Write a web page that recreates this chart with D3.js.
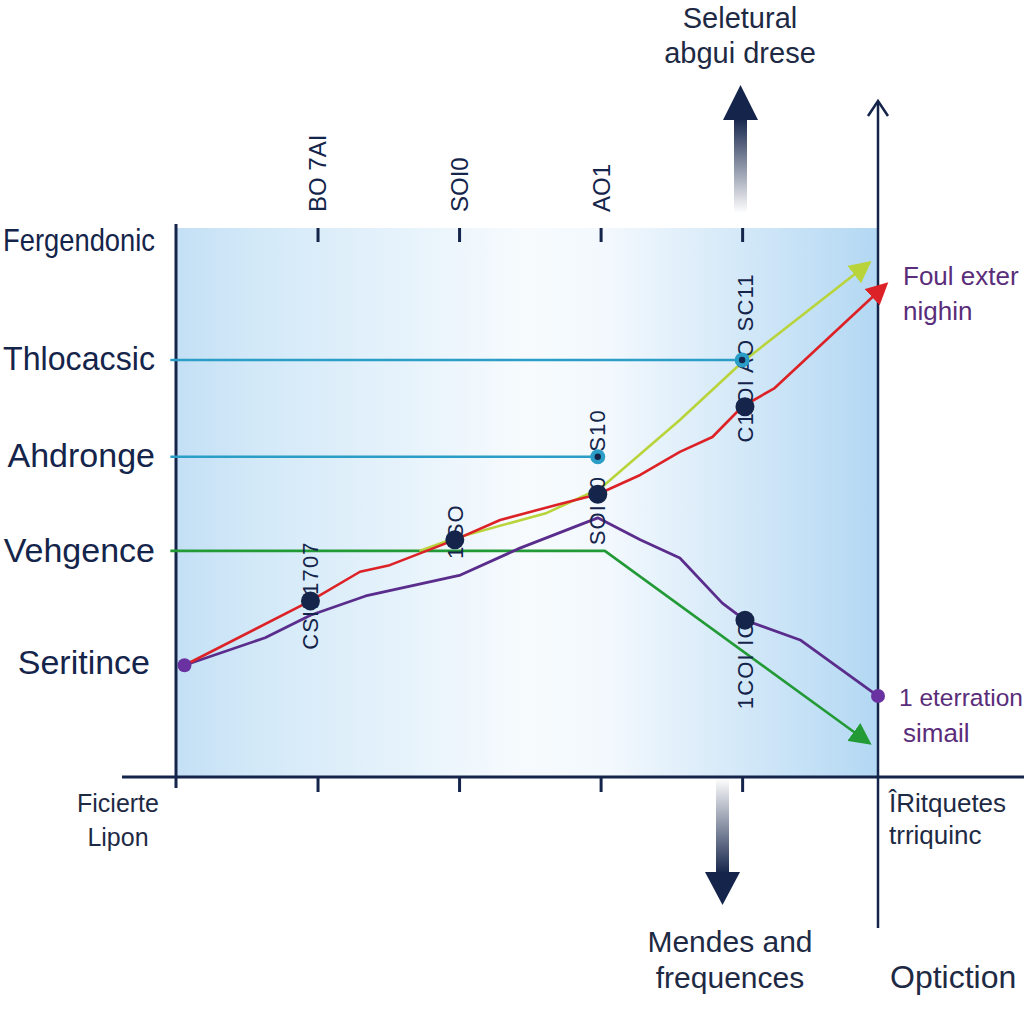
<!DOCTYPE html>
<html><head><meta charset="utf-8">
<script src="https://cdn.jsdelivr.net/npm/d3@7/dist/d3.min.js"></script>
<style>html,body{margin:0;padding:0;background:#fff;}svg{display:block;font-family:"Liberation Sans",Arial,sans-serif;}</style>
</head><body>
<script>
// ---- data ----
const categories = ["Seritince","Vehgence","Ahdronge","Thlocacsic","Fergendonic"];
const categoryValues = [20.9, 41.3, 58.6, 76.2, 97.8];
const topTickValues = [1, 2, 3, 4];
const topTickLabels = ["BO 7AI", "SOI0", "AO1", ""];

const redX = [0.06, 0.95, 1.30, 1.51, 1.97, 2.29, 2.68, 2.98, 3.28, 3.56, 3.79, 4.00, 4.23, 5.01];
const redY = [20.5, 32.2, 37.5, 38.7, 43.3, 46.9, 49.6, 51.6, 55.1, 59.3, 62.0, 67.5, 70.9, 89.6];
const yellowX = [1.72, 1.97, 2.62, 3.00, 3.56, 4.00, 4.89];
const yellowY = [41.3, 43.6, 48.2, 52.7, 65.1, 75.6, 93.5];
const purpleX = [0.06, 0.63, 0.95, 1.34, 2.01, 2.43, 2.98, 3.28, 3.56, 3.86, 4.02, 4.41, 4.96];
const purpleY = [20.5, 25.5, 29.6, 33.1, 36.9, 41.8, 47.3, 43.3, 40.0, 31.8, 28.7, 25.1, 14.9];
const greenX = [-0.04, 3.03, 4.89];
const greenY = [41.3, 41.3, 6.5];
const tealX1 = [-0.04, -0.04];
const tealX2 = [4.0, 2.98];
const tealY = [76.0, 58.4];

const navyPointX = [0.95, 1.97, 2.98, 4.02, 4.02];
const navyPointY = [32.2, 43.3, 51.6, 67.5, 28.7];
const purplePointX = [0.06, 4.96];
const purplePointY = [20.5, 14.9];

const pointLabels = ["CSII 1707", "1 SO", "SOI I0", "C1 OI AO SC11", "1COI ICI"];
const pointLabelX = [0.95, 1.97, 2.98, 4.02, 4.02];
const pointLabelY = [23.3, 39.8, 42.3, 61.0, 12.5];
const extraLabels = ["S10"];
const extraLabelX = [2.98];
const extraLabelY = [59.3];

// ---- layout ----
const W = 1024, H = 1024;
const x = d3.scaleLinear().domain([0, 4.96]).range([176, 878]);
const y = d3.scaleLinear().domain([0, 100]).range([778, 228]);
const navy = "#14244a";
const textCol = "#1e2a44";

const svg = d3.select("body").append("svg").attr("width", W).attr("height", H);
const defs = svg.append("defs");

const bg = defs.append("linearGradient").attr("id","bg").attr("x1","0").attr("x2","1").attr("y1","0").attr("y2","0");
bg.append("stop").attr("offset","0").attr("stop-color","#c4e0f5");
bg.append("stop").attr("offset","0.12").attr("stop-color","#d3e9f8");
bg.append("stop").attr("offset","0.5").attr("stop-color","#f7fbfe");
bg.append("stop").attr("offset","0.62").attr("stop-color","#f2f8fd");
bg.append("stop").attr("offset","1").attr("stop-color","#b3d8f3");

const upG = defs.append("linearGradient").attr("id","upG").attr("x1","0").attr("x2","0").attr("y1","0").attr("y2","1");
upG.append("stop").attr("offset","0").attr("stop-color",navy);
upG.append("stop").attr("offset","1").attr("stop-color",navy).attr("stop-opacity","0");
const dnG = defs.append("linearGradient").attr("id","dnG").attr("x1","0").attr("x2","0").attr("y1","0").attr("y2","1");
dnG.append("stop").attr("offset","0").attr("stop-color",navy).attr("stop-opacity","0");
dnG.append("stop").attr("offset","1").attr("stop-color",navy);

function marker(id, color){
  defs.append("marker").attr("id",id).attr("viewBox","0 0 10 10").attr("refX",8).attr("refY",5)
    .attr("markerWidth",22).attr("markerHeight",22).attr("markerUnits","userSpaceOnUse").attr("orient","auto")
    .append("path").attr("d","M0,0 L10,5 L0,10 Z").attr("fill",color);
}
marker("mRed","#dc2226");
marker("mYel","#b9d43a");
marker("mGrn","#229a36");

// background
svg.append("rect").attr("x", x(0)).attr("y", y(100)).attr("width", x(4.96)-x(0)).attr("height", y(0)-y(100)).attr("fill","url(#bg)");

// axes
const gTop = svg.append("g").attr("transform",`translate(0,${y(100)})`)
  .call(d3.axisTop(x).tickValues(topTickValues).tickSize(-14).tickPadding(18).tickFormat((d,i)=>topTickLabels[i]));
gTop.select(".domain").remove();
gTop.selectAll(".tick line").attr("stroke",navy).attr("stroke-width",3);
gTop.selectAll(".tick text").attr("transform","rotate(-90)").attr("text-anchor","start")
  .attr("x",16).attr("y",0).attr("dy","0.35em").attr("font-size",24).attr("fill",navy);

const gBot = svg.append("g").attr("transform",`translate(0,${y(0)})`)
  .call(d3.axisBottom(x).tickValues(topTickValues).tickSize(14).tickFormat(""));
gBot.select(".domain").remove();
gBot.selectAll(".tick line").attr("stroke",navy).attr("stroke-width",3);

// left category axis
const labelSizes = {"Seritince":34, "Vehgence":34, "Ahdronge":34, "Thlocacsic":33, "Fergendonic":32};
const gLeft = svg.append("g").attr("transform",`translate(${x(0)},0)`)
  .call(d3.axisLeft(y).tickValues(categoryValues).tickSize(0).tickPadding(21).tickFormat((d,i)=>categories[i]));
gLeft.select(".domain").remove();
gLeft.selectAll(".tick text").attr("fill",navy)
  .each(function(d,i){
    const s = d3.select(this).attr("font-size", labelSizes[categories[i]]);
    if (categories[i] === "Fergendonic") s.attr("textLength",152).attr("lengthAdjust","spacingAndGlyphs");
    if (categories[i] === "Thlocacsic") s.attr("textLength",152).attr("lengthAdjust","spacingAndGlyphs");
    if (categories[i] === "Seritince") s.attr("x",-26);
  });

// axis lines
svg.append("line").attr("x1",x(0)).attr("x2",x(0)).attr("y1",y(100)-4).attr("y2",y(0)+10).attr("stroke",navy).attr("stroke-width",3);
svg.append("line").attr("x1",122).attr("x2",W).attr("y1",y(0)-1).attr("y2",y(0)-1).attr("stroke",navy).attr("stroke-width",3);
svg.append("line").attr("x1",x(4.96)).attr("x2",x(4.96)).attr("y1",102).attr("y2",928).attr("stroke",navy).attr("stroke-width",2.5);
svg.append("path").attr("d",`M${x(4.96)-10},116 L${x(4.96)},101 L${x(4.96)+10},116`).attr("fill","none").attr("stroke",navy).attr("stroke-width",2.5);

// lines
const line = d3.line().x(d=>x(d[0])).y(d=>y(d[1]));
function drawLine(xs, ys, color, w, mk){
  const p = svg.append("path").datum(xs.map((v,i)=>[v, ys[i]])).attr("d", line)
    .attr("fill","none").attr("stroke",color).attr("stroke-width",w).attr("stroke-linejoin","round");
  if (mk) p.attr("marker-end",`url(#${mk})`);
}
tealX1.forEach((v,i)=>drawLine([v, tealX2[i]], [tealY[i], tealY[i]], "#2a9ec6", 2.6));
drawLine(greenX, greenY, "#229a36", 2.6, "mGrn");
drawLine(purpleX, purpleY, "#5a2d8c", 2.8);
drawLine(yellowX, yellowY, "#b9d43a", 2.6, "mYel");
drawLine(redX, redY, "#dc2226", 2.6, "mRed");

// point labels (rotated)
function rotLabel(xv, yv, t){
  svg.append("text").attr("transform",`translate(${x(xv)},${y(yv)}) rotate(-90)`)
    .attr("text-anchor","start").attr("dy","0.35em").attr("font-size",22).attr("letter-spacing",1.2)
    .attr("fill",navy).text(t);
}
pointLabels.forEach((t,i)=>rotLabel(pointLabelX[i], pointLabelY[i], t));
extraLabels.forEach((t,i)=>rotLabel(extraLabelX[i], extraLabelY[i], t));

// points
svg.selectAll("circle.navy").data(navyPointX.map((v,i)=>[v,navyPointY[i]])).join("circle")
  .attr("cx",d=>x(d[0])).attr("cy",d=>y(d[1])).attr("r",9.5).attr("fill",navy);
tealX2.forEach((v,i)=>{
  svg.append("circle").attr("cx",x(v)).attr("cy",y(tealY[i])).attr("r",7.5).attr("fill","#2a9ec6");
  svg.append("circle").attr("cx",x(v)).attr("cy",y(tealY[i])).attr("r",3.2).attr("fill",navy);
});
purplePointX.forEach((v,i)=>{
  svg.append("circle").attr("cx",x(v)).attr("cy",y(purplePointY[i])).attr("r",7).attr("fill","#6a32a0");
});

// arrows
svg.append("rect").attr("x",734).attr("y",118).attr("width",13).attr("height",95).attr("fill","url(#upG)");
svg.append("path").attr("d","M740.5,85 L758,120 L723,120 Z").attr("fill",navy);
svg.append("rect").attr("x",716).attr("y",778).attr("width",13).attr("height",96).attr("fill","url(#dnG)");
svg.append("path").attr("d","M705,872 L740,872 L722.5,905 Z").attr("fill",navy);

// texts
function txt(xp, yp, t, size, color, anchor){
  svg.append("text").attr("x",xp).attr("y",yp).attr("font-size",size).attr("fill",color)
    .attr("text-anchor",anchor||"start").text(t);
}
txt(740, 28, "Seletural", 29, textCol, "middle");
txt(740, 63, "abgui drese", 29, textCol, "middle");
txt(903, 285, "Foul exter", 26, "#5a2d7a");
txt(903, 320, "nighin", 26, "#5a2d7a");
txt(899, 706, "1 eterration", 24.5, "#5a2d7a");
txt(903, 742, "simail", 26, "#5a2d7a");
txt(889, 812, "ÎRitquetes", 26, textCol);
txt(889, 844, "trriquinc", 26, textCol);
txt(890, 988, "Optiction", 32, textCol);
txt(730, 952, "Mendes and", 30, textCol, "middle");
txt(730, 988, "frequences", 30, textCol, "middle");
txt(118, 812, "Ficierte", 25, textCol, "middle");
txt(118, 846, "Lipon", 25, textCol, "middle");
</script>
</body></html>
